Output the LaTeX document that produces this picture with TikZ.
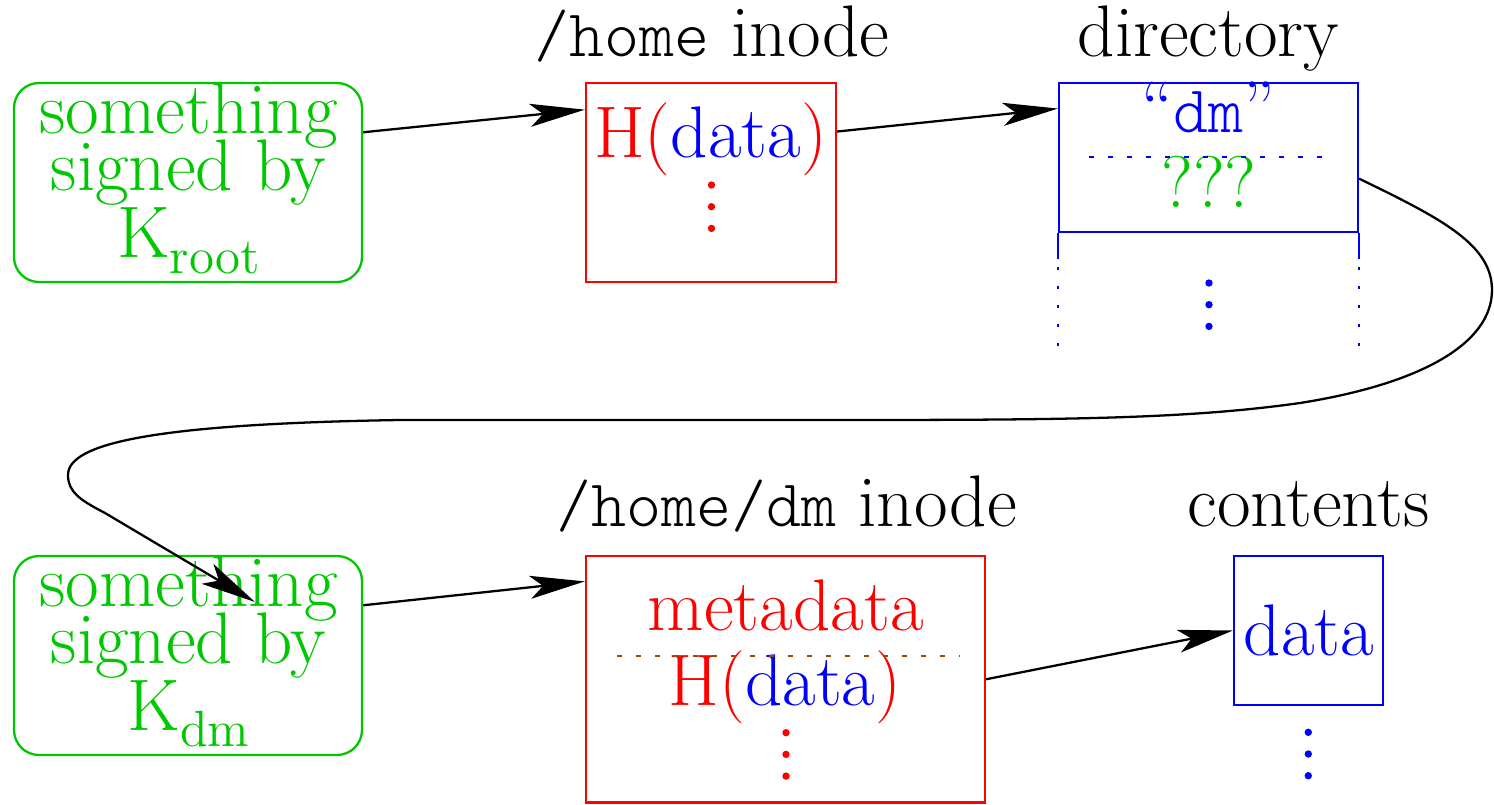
\documentclass[tikz,border=0pt]{standalone}
\usepackage{fontspec}
\newfontfamily\lighttt{Latin Modern Mono Light}
\usetikzlibrary{calc,arrows.meta}
\definecolor{figgreen}{HTML}{00C800}
\definecolor{figbrown}{HTML}{9C4A00}
\newcommand{\keysub}[1]{\raisebox{-0.22em}{\fontsize{14.5}{14.5}\selectfont #1}}
\newcommand{\fname}[1]{{\fontsize{19}{16}\lighttt #1}}
\newcommand{\keyfont}{\fontsize{20.8}{16.2}\selectfont\lineskiplimit=-30pt\relax}

\begin{document}
\begin{tikzpicture}[line width=0.65pt,
  every node/.append style={font=\fontsize{20.8}{16.2}\selectfont},
  keybox/.style={draw=figgreen, rounded corners=0.25cm, inner sep=0pt,
               minimum width=3.48cm, minimum height=1.99cm},
  inobox/.style={draw=red, inner sep=0pt},
  datbox/.style={draw=blue, inner sep=0pt},
  txt/.style={anchor=base, inner sep=0pt},
  keytxt/.style={anchor=base, inner sep=0pt, align=center, text=figgreen,
               font=\keyfont},
  ptr/.style={-{Stealth[length=5.5mm, width=2.3mm, inset=1.3mm]}},
  sep/.style={dash pattern=on 1.4pt off 4pt},
]
\useasboundingbox (0,0) rectangle (14.94,8.04);

% Top row: root key -> /home inode -> directory block.
\node[keybox] (kroot) at (1.88,6.215) {};
\node[keytxt] (krootsig) at (1.885,5.47) {something\\signed by\\[2.8pt]K\keysub{root}};

\node[inobox, minimum width=2.5cm, minimum height=1.99cm] (hino) at (7.11,6.215) {};
\node[txt] (hinolbl) at (7.12,7.48) {\fname{/home} inode};
\node[txt, text=red] (hinoh) at (7.105,6.47) {H(\textcolor{blue}{data})};

\node[datbox, minimum width=2.99cm, minimum height=1.49cm] (dir) at (12.085,6.465) {};
\node[txt] (dirlbl) at (12.085,7.48) {directory};
\node[txt, text=blue] (dirname) at (12.085,6.72) {“\fname{dm}”};
\node[txt, text=figgreen] (dirino) at (12.09,5.97) {???};
\draw[blue, sep] (10.89,6.47) -- (13.35,6.47);
% directory continues below the entry
\draw[blue] (dir.south west) -- ++(0,-0.26) (dir.south east) -- ++(0,-0.26);
\draw[blue, dash pattern=on 0.9pt off 4.5pt]
  ($(dir.south west)+(0,-0.34)$) -- ++(0,-0.86)
  ($(dir.south east)+(0,-0.34)$) -- ++(0,-0.86);

% Bottom row: dm key -> /home/dm inode -> file contents.
\node[keybox] (kdm) at (1.88,1.485) {};
\node[keytxt] (kdmsig) at (1.885,0.74) {something\\signed by\\[2.8pt]K\keysub{dm}};

\node[inobox, minimum width=3.99cm, minimum height=2.465cm] (hdm) at (7.855,1.2475) {};
\node[txt] (hdmlbl) at (7.865,2.78) {\fname{/home/dm} inode};
\node[txt, text=red] (hdmmeta) at (7.858,1.733) {metadata};
\node[txt, text=red] (hdmh) at (7.85,0.99) {H(\textcolor{blue}{data})};
\draw[figbrown, sep] (6.17,1.483) -- (9.60,1.483);

\node[datbox, minimum width=1.49cm, minimum height=1.49cm] (cont) at (13.085,1.735) {};
\node[txt] (contlbl) at (13.085,2.78) {contents};
\node[txt, text=blue] (contdata) at (13.09,1.49) {data};

% vertical ellipses under each block
\coordinate (hdots) at (7.115,6.19);
\coordinate (ddots) at (12.09,5.21);
\coordinate (mdots) at (7.86,0.713);
\coordinate (cdots) at (13.083,0.717);
\foreach \p/\c in {hdots/red, ddots/blue, mdots/red, cdots/blue}
  \foreach \k in {0,1,2}
    \fill[\c] ($(\p)+(0,-0.217*\k)$) circle (1.05pt);

% pointers
\draw[ptr] (kroot.16.5) -- (hino.150);
\draw[ptr] (hino.22.4) -- (dir.162.4);
\draw[ptr] (kdm.16.5) -- (hdm.154.25);
\draw[ptr] (hdm.east) -- (cont.west);

% the ??? entry leads to the key of the next level
\coordinate (kdmin) at ($(kdm.center)+(0.67,0.535)$);
\draw[ptr] (dir.-8.6) .. controls (14.4,5.86) and (14.92,5.6) .. (14.92,5.14)
  .. controls (14.92,4.6) and (14.2,4.2) .. (13.0,4.01)
  .. controls (11.8,3.84) and (10.5,3.84) .. (8.0,3.84) -- (4.0,3.84)
  .. controls (1.5,3.80) and (0.68,3.6) .. (0.68,3.29)
  .. controls (0.68,3.12) and (0.8,3.04) .. (1.05,2.91) -- (kdmin);

\end{tikzpicture}
\end{document}
